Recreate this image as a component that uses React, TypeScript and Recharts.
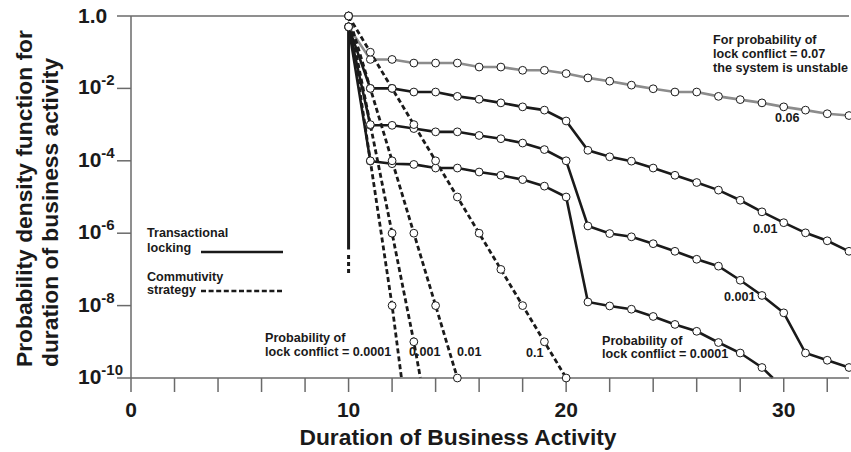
import React from 'react';
import { LineChart, Line, XAxis, YAxis, ReferenceLine } from 'recharts';

// durations where the curves were sampled
const durations = [10, 11, 12, 13, 14, 15, 16, 17, 18, 19, 20, 21, 22, 23, 24, 25, 26, 27, 28, 29, 30, 31, 32, 33];
const durationsP0001 = [10, 11, 12, 13, 14, 15, 16, 17, 18, 19, 20, 21, 22, 23, 24, 25, 26, 27, 28, 29, 29.5];
const durationsC1 = [10, 11, 12, 13, 14, 15, 16, 17, 18, 19, 20];
const durationsC01 = [10, 11, 12, 13, 14, 15];
const durationsC001 = [10, 11, 12, 13, 13.3];
const durationsC0001 = [10, 11, 12, 12.43];

// log10 of the density
// transactional locking
const lockP06 = [-0.3, -1.2, -1.2, -1.3, -1.3, -1.3, -1.41, -1.41, -1.5, -1.5, -1.59, -1.71, -1.8, -1.91, -2.01, -2.1, -2.1, -2.22, -2.31, -2.4, -2.51, -2.6, -2.7, -2.75];
const lockP01 = [-0.3, -2.0, -2.0, -2.1, -2.1, -2.22, -2.3, -2.4, -2.51, -2.6, -2.9, -3.71, -3.89, -4.01, -4.2, -4.4, -4.6, -4.81, -5.09, -5.41, -5.71, -5.99, -6.21, -6.5];
const lockP001 = [-0.3, -3.02, -3.02, -3.11, -3.2, -3.2, -3.3, -3.39, -3.51, -3.69, -4.0, -5.8, -6.01, -6.1, -6.29, -6.5, -6.72, -6.91, -7.3, -7.72, -8.2, -9.31, -9.51, -9.71];
const lockP0001 = [-0.3, -4.01, -4.08, -4.1, -4.2, -4.2, -4.31, -4.4, -4.52, -4.7, -5.0, -7.9, -8.01, -8.1, -8.3, -8.52, -8.71, -9.02, -9.31, -9.71, -10];
// commutativity strategy
const commP1 = [0, -1, -2, -3, -4, -5, -6, -7, -8, -9, -10];
const commP01 = [0, -2, -4, -6, -8, -10];
const commP001 = [0, -3, -6, -9, -10];
const commP0001 = [0, -4, -8, -10];

// the vertical drop at duration 10
const dropSolid = [-0.3, -6.45];
const dropDashed = [-6.6, -7.1];

const yTicks = [0, -2, -4, -6, -8, -10];
const xTicks = [0, 2, 4, 6, 8, 10, 12, 14, 16, 18, 20, 22, 24, 26, 28, 30, 32];
const xLabels = [0, 10, 20, 30];

const toPoints = (xs: number[], logs: number[]) =>
  logs.map((e, i) => ({ x: xs[i], y: Math.pow(10, e) }));

const FONT = "'Liberation Sans', Arial, Helvetica, sans-serif";
const INK = '#1a1a1a';
const AXIS = '#6a6a6a';

const renderDot = (props: any) => {
  const { cx, cy, payload, index } = props;
  if (!Number.isInteger(payload.x)) return <g key={`d-${index}`} />;
  return <circle key={`d-${index}`} cx={cx} cy={cy} r={3.9} fill="#fff" stroke={INK} strokeWidth={1} />;
};

const YTick = (props: any) => {
  const { x, y, payload } = props;
  const exp = Math.round(Math.log10(payload.value));
  if (exp === 0) {
    return (
      <text x={x - 37} y={y + 7} fontFamily={FONT} fontWeight="bold" fontSize={21} fill={INK}>1.0</text>
    );
  }
  return (
    <text x={x - 37} y={y + 6} fontFamily={FONT} fontWeight="bold" fontSize={21} fill={INK}>
      10<tspan dy={-9} fontSize={15}>{exp}</tspan>
    </text>
  );
};

const XTick = (props: any) => {
  const { x, y, payload } = props;
  if (!xLabels.includes(payload.value)) return <g />;
  return (
    <text x={x} y={y + 23} textAnchor="middle" fontFamily={FONT} fontWeight="bold" fontSize={21} fill={INK}>
      {payload.value}
    </text>
  );
};

const Note = ({ x, y, lines }: { x: number; y: number[]; lines: string[] }) => (
  <text fontFamily={FONT} fontWeight="bold" fontSize={12.6} fill={INK}>
    {lines.map((l, i) => (
      <tspan key={i} x={x} y={y[i]}>{l}</tspan>
    ))}
  </text>
);

export default function App() {
  const solid = { stroke: INK, strokeWidth: 2.6, isAnimationActive: false, dot: renderDot, type: 'linear' as const };
  const dashed = { ...solid, strokeWidth: 2.8, strokeDasharray: '5 3' };
  return (
    <div style={{ position: 'absolute', left: 0, top: 0, width: 851, height: 452, background: '#fff' }}>
      <LineChart width={851} height={452} margin={{ top: 16, right: 2, left: 0, bottom: 0 }}>
        <XAxis
          type="number"
          dataKey="x"
          domain={[0, 33]}
          ticks={xTicks}
          interval={0}
          height={74}
          tickSize={14}
          axisLine={{ stroke: AXIS, strokeWidth: 1.5 }}
          tickLine={{ stroke: AXIS, strokeWidth: 1.5 }}
          tick={XTick}
        />
        <YAxis
          type="number"
          dataKey="y"
          scale="log"
          domain={[1e-10, 1]}
          ticks={yTicks.map((e) => Math.pow(10, e))}
          interval={0}
          width={131}
          tickSize={14}
          axisLine={{ stroke: AXIS, strokeWidth: 1.5 }}
          tickLine={{ stroke: AXIS, strokeWidth: 1.5 }}
          tick={YTick}
        />
        <ReferenceLine y={1} stroke={AXIS} strokeWidth={1.5} />
        <Line data={toPoints([10, 10], dropSolid)} dataKey="y" stroke={INK} strokeWidth={3} dot={false} isAnimationActive={false} />
        <Line data={toPoints([10, 10], dropDashed)} dataKey="y" stroke={INK} strokeWidth={3} strokeDasharray="4 3" dot={false} isAnimationActive={false} />
        <Line data={toPoints(durations, lockP06)} dataKey="y" {...solid} stroke="#8c8c8c" />
        <Line data={toPoints(durations, lockP01)} dataKey="y" {...solid} />
        <Line data={toPoints(durations, lockP001)} dataKey="y" {...solid} />
        <Line data={toPoints(durationsP0001, lockP0001)} dataKey="y" {...solid} />
        <Line data={toPoints(durationsC1, commP1)} dataKey="y" {...dashed} />
        <Line data={toPoints(durationsC01, commP01)} dataKey="y" {...dashed} />
        <Line data={toPoints(durationsC001, commP001)} dataKey="y" {...dashed} />
        <Line data={toPoints(durationsC0001, commP0001)} dataKey="y" {...dashed} />
      </LineChart>
      <svg width={851} height={452} style={{ position: 'absolute', left: 0, top: 0, pointerEvents: 'none' }}>
        <text fontFamily={FONT} fontWeight="bold" fontSize={22.8} fill={INK} transform="translate(32,367) rotate(-90)">
          Probability density function for
        </text>
        <text fontFamily={FONT} fontWeight="bold" fontSize={22.8} fill={INK} transform="translate(58,367) rotate(-90)">
          duration of business activity
        </text>
        <text x={458} y={445} textAnchor="middle" fontFamily={FONT} fontWeight="bold" fontSize={22.8} fill={INK}>
          Duration of Business Activity
        </text>

        <Note x={147} y={[237, 251.5]} lines={['Transactional', 'locking']} />
        <line x1={201} y1={252} x2={283} y2={252} stroke={INK} strokeWidth={2.6} />
        <Note x={147} y={[281, 293.5]} lines={['Commutivity', 'strategy']} />
        <line x1={201} y1={291} x2={283} y2={291} stroke={INK} strokeWidth={2.6} strokeDasharray="5 2.6" />

        <Note x={265} y={[342, 356]} lines={['Probability of', 'lock conflict = 0.0001']} />
        <Note x={409} y={[356]} lines={['0.001']} />
        <Note x={457} y={[356]} lines={['0.01']} />
        <Note x={526} y={[357]} lines={['0.1']} />
        <Note x={602} y={[344.5]} lines={['Probability of']} />
        <Note x={602} y={[357.5]} lines={['lock conflict = 0.0001']} />
        <Note x={713} y={[44, 58, 72.3]} lines={['For probability of', 'lock conflict = 0.07', 'the system is unstable']} />
        <Note x={775} y={[122]} lines={['0.06']} />
        <Note x={753} y={[233]} lines={['0.01']} />
        <Note x={724} y={[301]} lines={['0.001']} />
      </svg>
    </div>
  );
}
